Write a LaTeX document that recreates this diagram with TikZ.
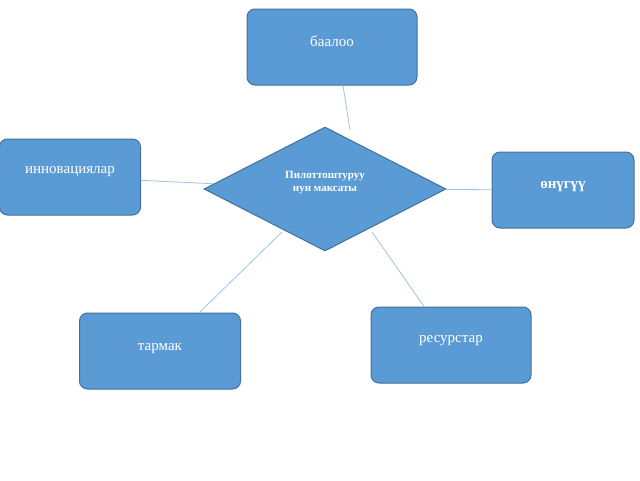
\documentclass[tikz,border=0pt]{standalone}
\usepackage{fontspec}
\setmainfont{Liberation Serif}
\usetikzlibrary{shapes.geometric,positioning}
\definecolor{boxfill}{HTML}{5B9BD5}
\definecolor{boxdraw}{HTML}{41719C}
\definecolor{linkline}{HTML}{9DC3E6}
\tikzset{
  box/.style={draw=boxdraw,fill=boxfill,rounded corners=8pt,line width=1pt,minimum width=#1,minimum height=76pt,inner sep=0pt},
  tag/.style={text=white,font=\fontsize{15}{17}\selectfont,inner sep=0pt,anchor=base},
  link/.style={draw=linkline,line width=0.8pt}
}
\begin{document}
\begin{tikzpicture}[x=1pt,y=-1pt]
        \useasboundingbox (0,0) rectangle (640,480);

        \node[box=170pt] (B_1) at (332,47)  {};
        \node[box=141pt] (B_2) at (70,177)  {};
        \node[box=142pt] (B_3) at (563,190)  {};
        \node[box=160pt] (B_4) at (451,345)  {};
        \node[box=161pt] (B_5) at (160,351)  {};
        \node[diamond,draw=boxdraw,fill=boxfill,line width=1pt,minimum width=242pt,minimum height=124pt,aspect=1.95,inner sep=0pt] (D) at (325,189) {};

        \node[tag] at (332,46) {баалоо};
        \node[tag] at (70,173) {инновациялар};
        \node[tag,font=\fontsize{15}{17}\selectfont\bfseries] at (563,188) {өнүгүү};
        \node[tag] at (451,342) {ресурстар};
        \node[tag] at (160,350) {тармак};
        \node[text=white,font=\fontsize{11}{13}\selectfont\bfseries,align=center] at (325,183) {Пилоттоштуруу\\нун максаты};

        \draw[link] (B_1.south -| 343,0) -- (350,130);
        \draw[link] (B_2) -- (D);
        \draw[link] (D) -- (B_3);
        \draw[link] (282,232) -- (B_5);
        \draw[link] (372,232) -- (B_4);
\end{tikzpicture}
\end{document}
